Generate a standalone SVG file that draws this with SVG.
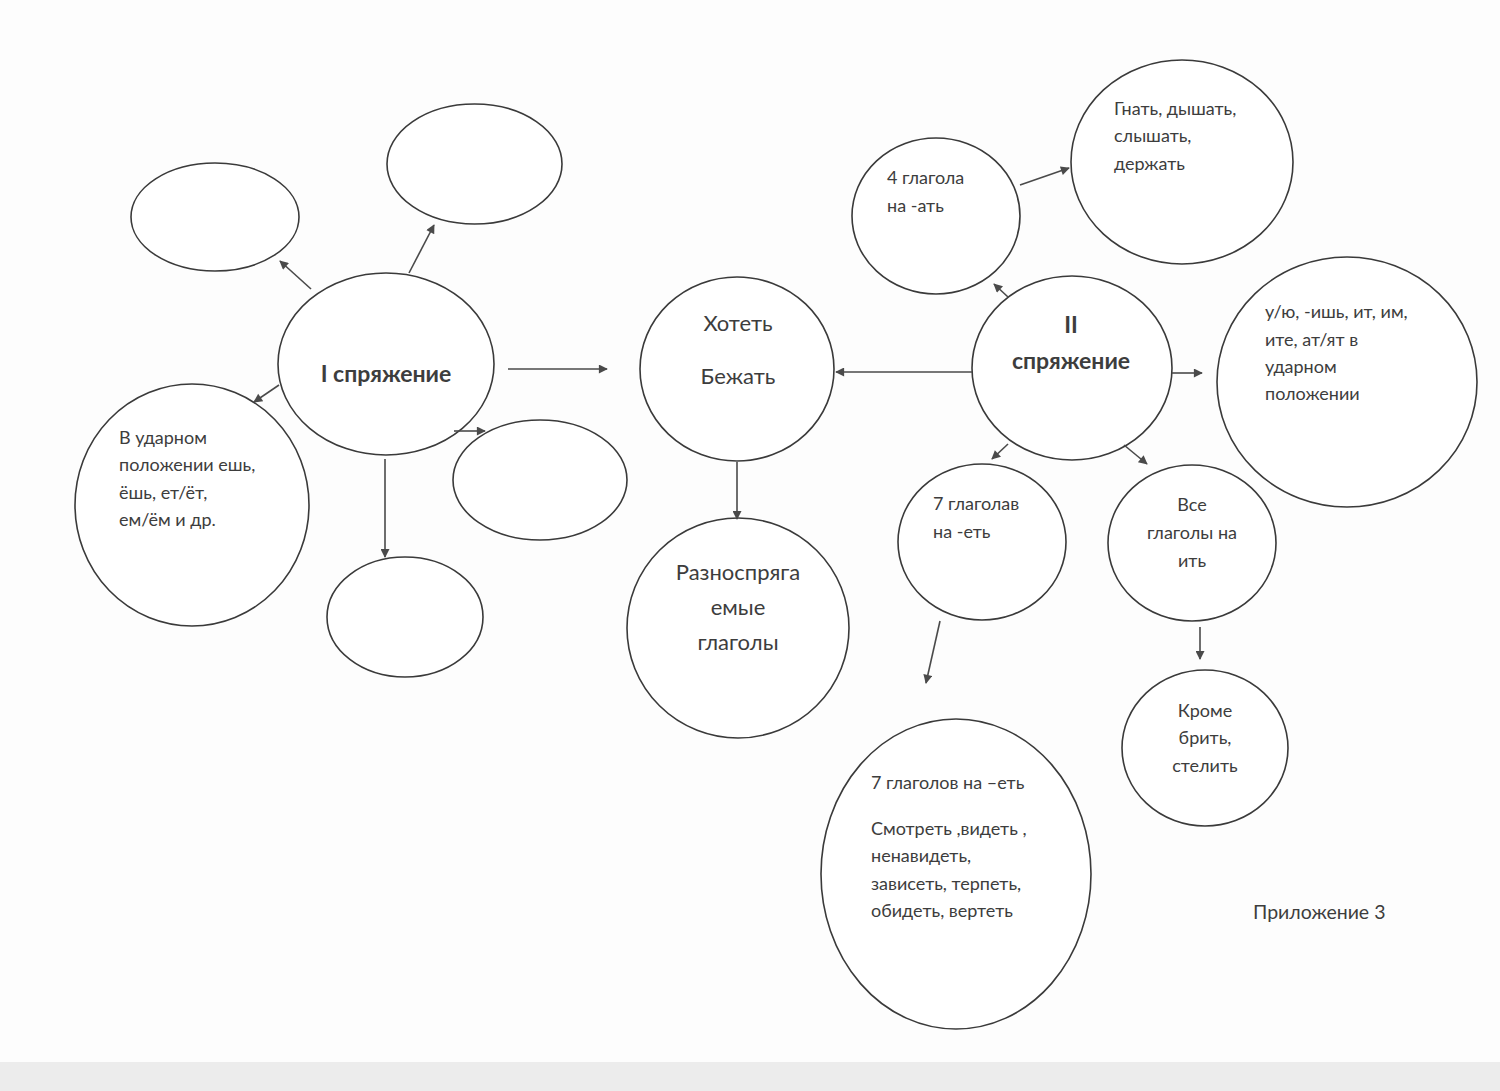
<svg xmlns="http://www.w3.org/2000/svg" width="1500" height="1091" viewBox="0 0 1500 1091">
<defs>
<marker id="ah" viewBox="0 0 10 10" refX="9" refY="5" markerWidth="11" markerHeight="9" markerUnits="userSpaceOnUse" orient="auto">
<path d="M0,0 L10,5 L0,10 z" fill="#4a4a4a"/>
</marker>
<style>
.n{fill:#fff;stroke:#3a3a3a;stroke-width:1.6}
.t{font-family:Lato,"Open Sans","Noto Sans",sans-serif;font-size:18px;fill:#3d3d3d}
.m{text-anchor:middle}
.b{font-weight:bold;font-size:23px}
.l{font-size:22px}
.c line{stroke:#4a4a4a;stroke-width:1.6;marker-end:url(#ah)}
</style>
</defs>
<rect width="1500" height="1091" fill="#fdfdfd"/>
<rect y="1062" width="1500" height="29" fill="#ececec"/>
<g id="n-tl"><ellipse class="n" cx="215" cy="217" rx="84" ry="54"/></g>
<g id="n-top"><ellipse class="n" cx="474.5" cy="164" rx="87.5" ry="60"/></g>
<g id="n-i"><ellipse class="n" cx="386" cy="364" rx="108" ry="91"/><text class="t b m" x="386" y="382">I спряжение</text></g>
<g id="n-udar1"><ellipse class="n" cx="192" cy="505" rx="117" ry="121"/>
<text class="t" x="119" y="444">В ударном</text>
<text class="t" x="119" y="471">положении ешь,</text>
<text class="t" x="119" y="499">ёшь, ет/ёт,</text>
<text class="t" x="119" y="526">ем/ём и др.</text></g>
<g id="n-r"><ellipse class="n" cx="540" cy="480" rx="87" ry="60"/></g>
<g id="n-bot"><ellipse class="n" cx="405" cy="617" rx="78" ry="60"/></g>
<g id="n-hot"><ellipse class="n" cx="737" cy="369" rx="97" ry="92"/>
<text class="t l m" x="738" y="331">Хотеть</text>
<text class="t l m" x="738" y="384">Бежать</text></g>
<g id="n-razn"><ellipse class="n" cx="738" cy="628" rx="111" ry="110"/>
<text class="t l m" x="738" y="580">Разноспряга</text>
<text class="t l m" x="738" y="615">емые</text>
<text class="t l m" x="738" y="650">глаголы</text></g>
<g id="n-ii"><ellipse class="n" cx="1072" cy="368" rx="100" ry="92"/>
<text class="t b m" x="1071" y="333">II</text>
<text class="t b m" x="1071" y="369">спряжение</text></g>
<g id="n-4"><ellipse class="n" cx="936" cy="216" rx="84" ry="78"/>
<text class="t" x="887" y="184">4 глагола</text>
<text class="t" x="887" y="212">на -ать</text></g>
<g id="n-gnat"><ellipse class="n" cx="1182" cy="162" rx="111" ry="102"/>
<text class="t" x="1114" y="115">Гнать, дышать,</text>
<text class="t" x="1114" y="142">слышать,</text>
<text class="t" x="1114" y="170">держать</text></g>
<g id="n-uyu"><ellipse class="n" cx="1347" cy="382" rx="130" ry="125"/>
<text class="t" x="1265" y="318">у/ю, -ишь, ит, им,</text>
<text class="t" x="1265" y="346">ите, ат/ят в</text>
<text class="t" x="1265" y="373">ударном</text>
<text class="t" x="1265" y="400">положении</text></g>
<g id="n-7a"><ellipse class="n" cx="982" cy="542" rx="84" ry="78"/>
<text class="t" x="933" y="510">7 глаголав</text>
<text class="t" x="933" y="538">на -еть</text></g>
<g id="n-vse"><ellipse class="n" cx="1192" cy="543" rx="84" ry="78"/>
<text class="t m" x="1192" y="511">Все</text>
<text class="t m" x="1192" y="539">глаголы на</text>
<text class="t m" x="1192" y="567">ить</text></g>
<g id="n-krome"><ellipse class="n" cx="1205" cy="748" rx="83" ry="78"/>
<text class="t m" x="1205" y="717">Кроме</text>
<text class="t m" x="1205" y="744">брить,</text>
<text class="t m" x="1205" y="772">стелить</text></g>
<g id="n-7b"><ellipse class="n" cx="956" cy="874" rx="135" ry="155"/>
<text class="t" x="871" y="789">7 глаголов на –еть</text>
<text class="t" x="871" y="835">Смотреть ,видеть ,</text>
<text class="t" x="871" y="862">ненавидеть,</text>
<text class="t" x="871" y="890">зависеть, терпеть,</text>
<text class="t" x="871" y="917">обидеть, вертеть</text></g>
<text class="t" x="1253" y="919" style="font-size:19.5px">Приложение 3</text>
<g id="connectors" class="c">
<line x1="311" y1="289" x2="280" y2="261"/>
<line x1="409" y1="273" x2="434" y2="225"/>
<line x1="279" y1="385" x2="254" y2="402"/>
<line x1="508" y1="369" x2="607" y2="369"/>
<line x1="454" y1="431" x2="485" y2="431"/>
<line x1="385" y1="459" x2="385" y2="557"/>
<line x1="972" y1="372" x2="836" y2="372"/>
<line x1="1172" y1="373" x2="1202" y2="373"/>
<line x1="1008" y1="297" x2="994" y2="284"/>
<line x1="1020" y1="185" x2="1069" y2="168"/>
<line x1="1008" y1="444" x2="992" y2="459"/>
<line x1="1124" y1="445" x2="1147" y2="464"/>
<line x1="737" y1="462" x2="737" y2="519"/>
<line x1="940" y1="621" x2="926" y2="683"/>
<line x1="1200" y1="627" x2="1200" y2="659"/>
</g>
</svg>
